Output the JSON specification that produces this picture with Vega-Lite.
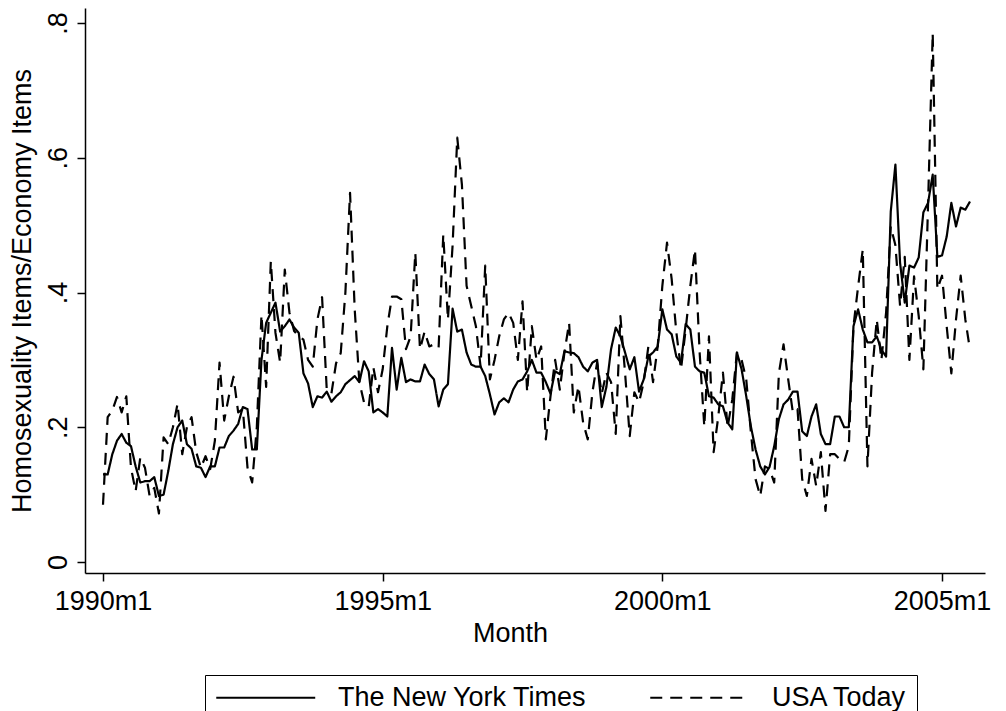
{
  "$schema": "https://vega.github.io/schema/vega-lite/v6.json",
  "width": 900,
  "height": 565,
  "autosize": {"type": "none"},
  "padding": {"left": 85, "top": 8, "right": 21, "bottom": 138},
  "background": "white",
  "config": {
    "view": {"stroke": null},
    "font": "Liberation Sans",
    "axis": {"grid": false, "domainColor": "black", "tickColor": "black", "domainWidth": 1.5, "tickWidth": 1.5, "labelColor": "black", "titleColor": "black", "labelFont": "Liberation Sans", "titleFont": "Liberation Sans", "labelFontSize": 27, "titleFontSize": 27, "titleFontWeight": "normal", "tickSize": 8}
  },
  "data": {"values": [
    {"month":"1990m1","t":0,"nyt":0.13,"usa":0.085},
    {"month":"1990m2","t":1,"nyt":0.13,"usa":0.215},
    {"month":"1990m3","t":2,"nyt":0.16,"usa":0.225},
    {"month":"1990m4","t":3,"nyt":0.18,"usa":0.245},
    {"month":"1990m5","t":4,"nyt":0.19,"usa":0.222},
    {"month":"1990m6","t":5,"nyt":0.177,"usa":0.246},
    {"month":"1990m7","t":6,"nyt":0.172,"usa":0.14},
    {"month":"1990m8","t":7,"nyt":0.142,"usa":0.105},
    {"month":"1990m9","t":8,"nyt":0.118,"usa":0.155},
    {"month":"1990m10","t":9,"nyt":0.12,"usa":0.14},
    {"month":"1990m11","t":10,"nyt":0.12,"usa":0.098},
    {"month":"1990m12","t":11,"nyt":0.126,"usa":0.11},
    {"month":"1991m1","t":12,"nyt":0.098,"usa":0.072},
    {"month":"1991m2","t":13,"nyt":0.1,"usa":0.185},
    {"month":"1991m3","t":14,"nyt":0.135,"usa":0.175},
    {"month":"1991m4","t":15,"nyt":0.175,"usa":0.2},
    {"month":"1991m5","t":16,"nyt":0.2,"usa":0.235},
    {"month":"1991m6","t":17,"nyt":0.21,"usa":0.16},
    {"month":"1991m7","t":18,"nyt":0.175,"usa":0.2},
    {"month":"1991m8","t":19,"nyt":0.168,"usa":0.215},
    {"month":"1991m9","t":20,"nyt":0.142,"usa":0.163},
    {"month":"1991m10","t":21,"nyt":0.14,"usa":0.14},
    {"month":"1991m11","t":22,"nyt":0.126,"usa":0.157},
    {"month":"1991m12","t":23,"nyt":0.142,"usa":0.138},
    {"month":"1992m1","t":24,"nyt":0.142,"usa":0.18},
    {"month":"1992m2","t":25,"nyt":0.17,"usa":0.296},
    {"month":"1992m3","t":26,"nyt":0.17,"usa":0.21},
    {"month":"1992m4","t":27,"nyt":0.187,"usa":0.246},
    {"month":"1992m5","t":28,"nyt":0.195,"usa":0.275},
    {"month":"1992m6","t":29,"nyt":0.205,"usa":0.222},
    {"month":"1992m7","t":30,"nyt":0.23,"usa":0.227},
    {"month":"1992m8","t":31,"nyt":0.227,"usa":0.14},
    {"month":"1992m9","t":32,"nyt":0.167,"usa":0.118},
    {"month":"1992m10","t":33,"nyt":0.167,"usa":0.2},
    {"month":"1992m11","t":34,"nyt":0.3,"usa":0.367},
    {"month":"1992m12","t":35,"nyt":0.355,"usa":0.26},
    {"month":"1993m1","t":36,"nyt":0.37,"usa":0.446},
    {"month":"1993m2","t":37,"nyt":0.385,"usa":0.34},
    {"month":"1993m3","t":38,"nyt":0.342,"usa":0.296},
    {"month":"1993m4","t":39,"nyt":0.35,"usa":0.434},
    {"month":"1993m5","t":40,"nyt":0.36,"usa":0.37},
    {"month":"1993m6","t":41,"nyt":0.348,"usa":0.343},
    {"month":"1993m7","t":42,"nyt":0.34,"usa":0.335},
    {"month":"1993m8","t":43,"nyt":0.28,"usa":0.33},
    {"month":"1993m9","t":44,"nyt":0.265,"usa":0.3},
    {"month":"1993m10","t":45,"nyt":0.23,"usa":0.29},
    {"month":"1993m11","t":46,"nyt":0.246,"usa":0.36},
    {"month":"1993m12","t":47,"nyt":0.244,"usa":0.393},
    {"month":"1994m1","t":48,"nyt":0.253,"usa":0.256},
    {"month":"1994m2","t":49,"nyt":0.238,"usa":0.25},
    {"month":"1994m3","t":50,"nyt":0.246,"usa":0.295},
    {"month":"1994m4","t":51,"nyt":0.252,"usa":0.31},
    {"month":"1994m5","t":52,"nyt":0.264,"usa":0.4},
    {"month":"1994m6","t":53,"nyt":0.27,"usa":0.548},
    {"month":"1994m7","t":54,"nyt":0.276,"usa":0.375},
    {"month":"1994m8","t":55,"nyt":0.267,"usa":0.267},
    {"month":"1994m9","t":56,"nyt":0.298,"usa":0.237},
    {"month":"1994m10","t":57,"nyt":0.283,"usa":0.23},
    {"month":"1994m11","t":58,"nyt":0.222,"usa":0.289},
    {"month":"1994m12","t":59,"nyt":0.227,"usa":0.252},
    {"month":"1995m1","t":60,"nyt":0.222,"usa":0.286},
    {"month":"1995m2","t":61,"nyt":0.216,"usa":0.35},
    {"month":"1995m3","t":62,"nyt":0.318,"usa":0.394},
    {"month":"1995m4","t":63,"nyt":0.256,"usa":0.394},
    {"month":"1995m5","t":64,"nyt":0.303,"usa":0.39},
    {"month":"1995m6","t":65,"nyt":0.267,"usa":0.316},
    {"month":"1995m7","t":66,"nyt":0.271,"usa":0.335},
    {"month":"1995m8","t":67,"nyt":0.268,"usa":0.459},
    {"month":"1995m9","t":68,"nyt":0.268,"usa":0.316},
    {"month":"1995m10","t":69,"nyt":0.293,"usa":0.342},
    {"month":"1995m11","t":70,"nyt":0.279,"usa":0.32},
    {"month":"1995m12","t":71,"nyt":0.271,"usa":0.323},
    {"month":"1996m1","t":72,"nyt":0.231,"usa":0.318},
    {"month":"1996m2","t":73,"nyt":0.256,"usa":0.486},
    {"month":"1996m3","t":74,"nyt":0.264,"usa":0.36},
    {"month":"1996m4","t":75,"nyt":0.376,"usa":0.47},
    {"month":"1996m5","t":76,"nyt":0.342,"usa":0.63},
    {"month":"1996m6","t":77,"nyt":0.345,"usa":0.56},
    {"month":"1996m7","t":78,"nyt":0.311,"usa":0.41},
    {"month":"1996m8","t":79,"nyt":0.293,"usa":0.38},
    {"month":"1996m9","t":80,"nyt":0.29,"usa":0.35},
    {"month":"1996m10","t":81,"nyt":0.29,"usa":0.29},
    {"month":"1996m11","t":82,"nyt":0.276,"usa":0.44},
    {"month":"1996m12","t":83,"nyt":0.249,"usa":0.271},
    {"month":"1997m1","t":84,"nyt":0.219,"usa":0.3},
    {"month":"1997m2","t":85,"nyt":0.237,"usa":0.335},
    {"month":"1997m3","t":86,"nyt":0.243,"usa":0.36},
    {"month":"1997m4","t":87,"nyt":0.237,"usa":0.37},
    {"month":"1997m5","t":88,"nyt":0.256,"usa":0.355},
    {"month":"1997m6","t":89,"nyt":0.268,"usa":0.3},
    {"month":"1997m7","t":90,"nyt":0.271,"usa":0.387},
    {"month":"1997m8","t":91,"nyt":0.283,"usa":0.252},
    {"month":"1997m9","t":92,"nyt":0.3,"usa":0.35},
    {"month":"1997m10","t":93,"nyt":0.281,"usa":0.3},
    {"month":"1997m11","t":94,"nyt":0.281,"usa":0.32},
    {"month":"1997m12","t":95,"nyt":0.267,"usa":0.182},
    {"month":"1998m1","t":96,"nyt":0.25,"usa":0.246},
    {"month":"1998m2","t":97,"nyt":0.283,"usa":0.3},
    {"month":"1998m3","t":98,"nyt":0.279,"usa":0.256},
    {"month":"1998m4","t":99,"nyt":0.313,"usa":0.311},
    {"month":"1998m5","t":100,"nyt":0.311,"usa":0.355},
    {"month":"1998m6","t":101,"nyt":0.31,"usa":0.222},
    {"month":"1998m7","t":102,"nyt":0.304,"usa":0.261},
    {"month":"1998m8","t":103,"nyt":0.29,"usa":0.207},
    {"month":"1998m9","t":104,"nyt":0.283,"usa":0.182},
    {"month":"1998m10","t":105,"nyt":0.296,"usa":0.252},
    {"month":"1998m11","t":106,"nyt":0.3,"usa":0.296},
    {"month":"1998m12","t":107,"nyt":0.23,"usa":0.25},
    {"month":"1999m1","t":108,"nyt":0.26,"usa":0.281},
    {"month":"1999m2","t":109,"nyt":0.316,"usa":0.267},
    {"month":"1999m3","t":110,"nyt":0.348,"usa":0.19},
    {"month":"1999m4","t":111,"nyt":0.335,"usa":0.365},
    {"month":"1999m5","t":112,"nyt":0.311,"usa":0.281},
    {"month":"1999m6","t":113,"nyt":0.286,"usa":0.187},
    {"month":"1999m7","t":114,"nyt":0.304,"usa":0.252},
    {"month":"1999m8","t":115,"nyt":0.253,"usa":0.237},
    {"month":"1999m9","t":116,"nyt":0.271,"usa":0.267},
    {"month":"1999m10","t":117,"nyt":0.305,"usa":0.32},
    {"month":"1999m11","t":118,"nyt":0.311,"usa":0.267},
    {"month":"1999m12","t":119,"nyt":0.32,"usa":0.32},
    {"month":"2000m1","t":120,"nyt":0.375,"usa":0.41},
    {"month":"2000m2","t":121,"nyt":0.345,"usa":0.474},
    {"month":"2000m3","t":122,"nyt":0.338,"usa":0.42},
    {"month":"2000m4","t":123,"nyt":0.305,"usa":0.341},
    {"month":"2000m5","t":124,"nyt":0.296,"usa":0.286},
    {"month":"2000m6","t":125,"nyt":0.353,"usa":0.345},
    {"month":"2000m7","t":126,"nyt":0.345,"usa":0.41},
    {"month":"2000m8","t":127,"nyt":0.29,"usa":0.464},
    {"month":"2000m9","t":128,"nyt":0.283,"usa":0.311},
    {"month":"2000m10","t":129,"nyt":0.281,"usa":0.201},
    {"month":"2000m11","t":130,"nyt":0.246,"usa":0.335},
    {"month":"2000m12","t":131,"nyt":0.244,"usa":0.163},
    {"month":"2001m1","t":132,"nyt":0.234,"usa":0.216},
    {"month":"2001m2","t":133,"nyt":0.231,"usa":0.281},
    {"month":"2001m3","t":134,"nyt":0.207,"usa":0.2},
    {"month":"2001m4","t":135,"nyt":0.197,"usa":0.241},
    {"month":"2001m5","t":136,"nyt":0.311,"usa":0.311},
    {"month":"2001m6","t":137,"nyt":0.286,"usa":0.3},
    {"month":"2001m7","t":138,"nyt":0.246,"usa":0.271},
    {"month":"2001m8","t":139,"nyt":0.201,"usa":0.192},
    {"month":"2001m9","t":140,"nyt":0.167,"usa":0.123},
    {"month":"2001m10","t":141,"nyt":0.142,"usa":0.098},
    {"month":"2001m11","t":142,"nyt":0.13,"usa":0.142},
    {"month":"2001m12","t":143,"nyt":0.141,"usa":0.138},
    {"month":"2002m1","t":144,"nyt":0.172,"usa":0.118},
    {"month":"2002m2","t":145,"nyt":0.212,"usa":0.28},
    {"month":"2002m3","t":146,"nyt":0.234,"usa":0.323},
    {"month":"2002m4","t":147,"nyt":0.241,"usa":0.271},
    {"month":"2002m5","t":148,"nyt":0.253,"usa":0.222},
    {"month":"2002m6","t":149,"nyt":0.253,"usa":0.227},
    {"month":"2002m7","t":150,"nyt":0.194,"usa":0.123},
    {"month":"2002m8","t":151,"nyt":0.187,"usa":0.098},
    {"month":"2002m9","t":152,"nyt":0.216,"usa":0.153},
    {"month":"2002m10","t":153,"nyt":0.234,"usa":0.113},
    {"month":"2002m11","t":154,"nyt":0.19,"usa":0.163},
    {"month":"2002m12","t":155,"nyt":0.175,"usa":0.076},
    {"month":"2003m1","t":156,"nyt":0.175,"usa":0.16},
    {"month":"2003m2","t":157,"nyt":0.216,"usa":0.16},
    {"month":"2003m3","t":158,"nyt":0.216,"usa":0.153},
    {"month":"2003m4","t":159,"nyt":0.2,"usa":0.148},
    {"month":"2003m5","t":160,"nyt":0.2,"usa":0.172},
    {"month":"2003m6","t":161,"nyt":0.35,"usa":0.35},
    {"month":"2003m7","t":162,"nyt":0.375,"usa":0.409},
    {"month":"2003m8","t":163,"nyt":0.345,"usa":0.464},
    {"month":"2003m9","t":164,"nyt":0.326,"usa":0.142},
    {"month":"2003m10","t":165,"nyt":0.326,"usa":0.281},
    {"month":"2003m11","t":166,"nyt":0.335,"usa":0.36},
    {"month":"2003m12","t":167,"nyt":0.315,"usa":0.3},
    {"month":"2004m1","t":168,"nyt":0.305,"usa":0.37},
    {"month":"2004m2","t":169,"nyt":0.52,"usa":0.498},
    {"month":"2004m3","t":170,"nyt":0.59,"usa":0.47},
    {"month":"2004m4","t":171,"nyt":0.444,"usa":0.38},
    {"month":"2004m5","t":172,"nyt":0.385,"usa":0.453},
    {"month":"2004m6","t":173,"nyt":0.44,"usa":0.3},
    {"month":"2004m7","t":174,"nyt":0.437,"usa":0.424},
    {"month":"2004m8","t":175,"nyt":0.452,"usa":0.365},
    {"month":"2004m9","t":176,"nyt":0.519,"usa":0.286},
    {"month":"2004m10","t":177,"nyt":0.533,"usa":0.53},
    {"month":"2004m11","t":178,"nyt":0.575,"usa":0.785},
    {"month":"2004m12","t":179,"nyt":0.453,"usa":0.405},
    {"month":"2005m1","t":180,"nyt":0.455,"usa":0.425},
    {"month":"2005m2","t":181,"nyt":0.483,"usa":0.35},
    {"month":"2005m3","t":182,"nyt":0.533,"usa":0.28},
    {"month":"2005m4","t":183,"nyt":0.498,"usa":0.36},
    {"month":"2005m5","t":184,"nyt":0.526,"usa":0.425},
    {"month":"2005m6","t":185,"nyt":0.523,"usa":0.36},
    {"month":"2005m7","t":186,"nyt":0.535,"usa":0.315}
  ]},
  "transform": [{"fold": ["nyt", "usa"], "as": ["series", "value"]}],
  "mark": {"type": "line", "color": "black", "strokeWidth": 2.2, "strokeJoin": "round"},
  "encoding": {
    "x": {
      "field": "t", "type": "quantitative",
      "scale": {"domain": [-3.862, 189.22], "nice": false, "zero": false},
      "axis": {"values": [0, 60, 120, 180], "labelExpr": "(1990 + datum.value / 12) + 'm1'", "title": "Month", "labelPadding": 7, "titlePadding": 6, "titleX": 425, "labelFlush": false}
    },
    "y": {
      "field": "value", "type": "quantitative",
      "scale": {"domain": [-0.0163, 0.8223], "nice": false, "zero": false},
      "axis": {"values": [0, 0.2, 0.4, 0.6, 0.8], "labelExpr": "datum.value == 0 ? '0' : replace(format(datum.value, '.1f'), '0.', '.')", "labelAngle": -90, "labelAlign": "center", "labelBaseline": "bottom", "labelPadding": 5, "title": "Homosexuality Items/Economy Items", "titlePadding": 8, "labelFlush": false}
    },
    "strokeDash": {
      "field": "series", "type": "nominal",
      "scale": {"domain": ["nyt", "usa"], "range": [[1, 0], [12, 8]]},
      "legend": {
        "title": null, "orient": "none", "legendX": 120, "legendY": 667, "direction": "horizontal",
        "labelExpr": "datum.label == 'nyt' ? 'The New York Times' : 'USA Today'",
        "symbolType": "M-1,0H7.8", "symbolSize": 506, "symbolStrokeWidth": 2.2, "symbolStrokeColor": "black", "symbolFillColor": "transparent",
        "labelFont": "Liberation Sans", "labelFontSize": 27, "labelColor": "black", "labelOffset": 97, "labelLimit": 400,
        "columnPadding": 58, "strokeColor": "black", "padding": 9
      }
    }
  }
}
